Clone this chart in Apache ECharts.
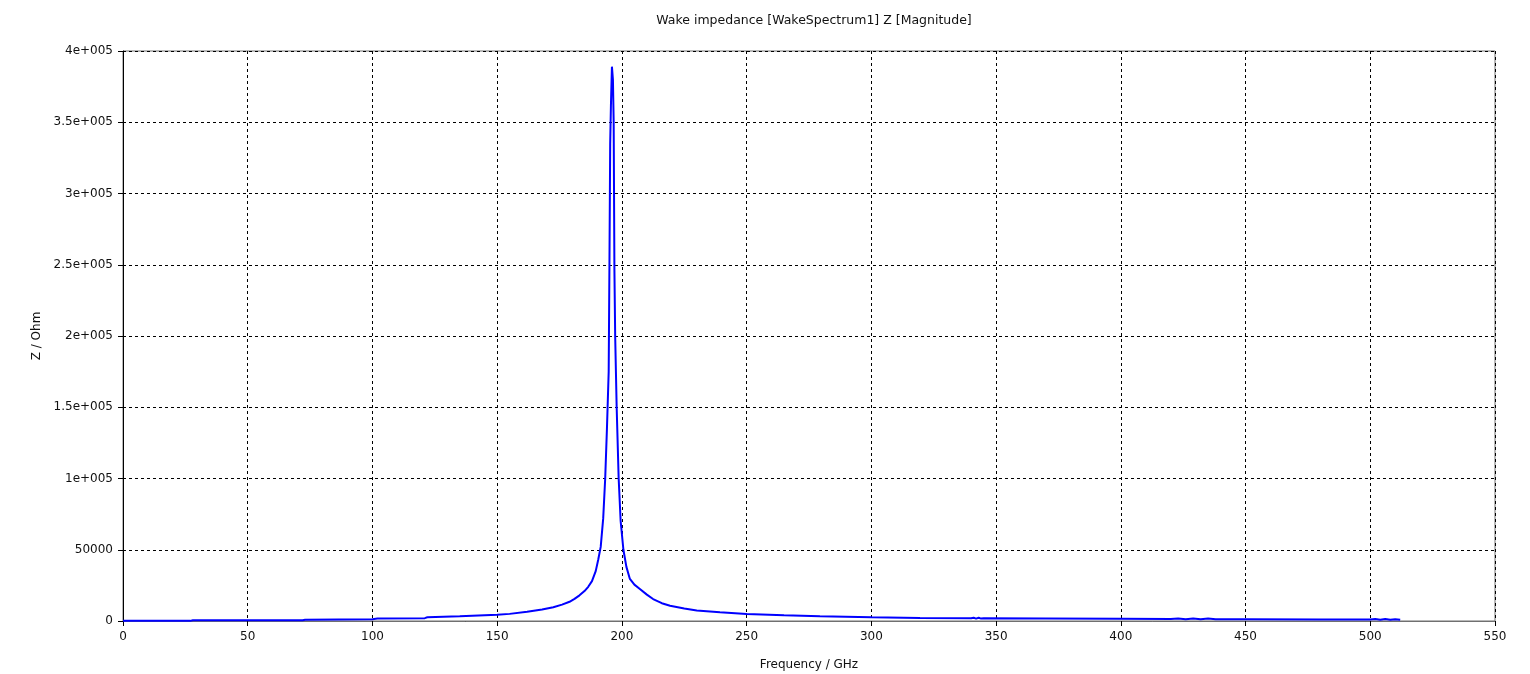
<!DOCTYPE html>
<html>
<head>
<meta charset="utf-8">
<script src="https://cdn.jsdelivr.net/npm/echarts@6/dist/echarts.min.js"></script>
<style>
 html, body { margin: 0; padding: 0; background: #fff; }
 #echarts { width: 1530px; height: 674px; }
</style>
</head>
<body>
<div id="echarts"></div>
<script>
// frequency (GHz) and |Z| (Ohm)
var freq = [0, 27, 28, 72, 73, 100, 102, 121, 122, 135, 150, 155, 162, 168, 172.5, 176, 179, 181, 183, 185,
  186.5, 188, 189.5, 190.5, 191.5, 192.5, 193.3, 194.0, 194.7, 195.0, 195.3, 195.6, 196.0, 196.4, 196.7, 197.0,
  197.3, 197.9, 198.7, 199.5, 200.6, 201.8, 203.2, 205, 207.2, 210, 212.5, 216, 219.3, 225, 230, 239.3, 250,
  265, 279.4, 300, 319.5, 340, 341, 342, 343, 344, 345, 370, 400, 420, 423, 426, 429, 432, 435, 438, 450,
  480, 500, 502, 504, 506, 508, 510, 512];
var impedance = [100, 100, 500, 600, 900, 1300, 1700, 2000, 2600, 3300, 4400, 5000, 6500, 8000, 9600, 11500, 13500, 15500, 18000, 21000,
  24000, 28000, 35000, 43000, 52000, 72000, 100000, 135000, 175000, 250000, 335000, 362000, 389000, 380000, 350000, 246000,
  200000, 150000, 100000, 70000, 50000, 38000, 29500, 25500, 22500, 18500, 15400, 12500, 10700, 8800, 7400, 6100, 4900,
  4000, 3300, 2600, 2100, 1900, 2300, 1700, 2300, 1700, 1900, 1700, 1500, 1400, 1800, 1200, 1800, 1200, 1700, 1300, 1200,
  1100, 1000, 1400, 900, 1400, 900, 1300, 800];
var xTicks = [0, 550, 50];
var yTicks = [0, 400000, 50000];

var points = [];
for (var i = 0; i < freq.length; i++) points.push([freq[i], impedance[i]]);

var myChart = echarts.init(document.getElementById('echarts'));
var font = 'DejaVu Sans';
var gridLine = { show: true, lineStyle: { color: '#000', type: [3, 3], width: 1 } };

option = {
  backgroundColor: '#fff',
  animation: false,
  textStyle: { fontFamily: font },
  title: {
    text: 'Wake impedance [WakeSpectrum1] Z [Magnitude]',
    left: 809,
    top: 9,
    textAlign: 'center',
    textStyle: { fontFamily: font, fontSize: 12.5, fontWeight: 'normal', color: '#111' }
  },
  grid: {
    left: 123, right: 35, top: 51, bottom: 53,
    outerBoundsMode: 'none',
    containLabel: false,
    show: true, borderColor: '#707070', borderWidth: 1
  },
  xAxis: {
    type: 'value',
    min: xTicks[0], max: xTicks[1], interval: xTicks[2],
    name: 'Frequency / GHz',
    nameLocation: 'middle',
    nameGap: 38,
    nameTextStyle: { fontFamily: font, fontSize: 12, color: '#111' },
    axisLine: { show: true, lineStyle: { color: '#707070' } },
    axisTick: { show: true, length: 5, lineStyle: { color: '#000' } },
    axisLabel: { margin: 10, fontFamily: font, fontSize: 12, color: '#111' },
    splitLine: gridLine
  },
  yAxis: {
    type: 'value',
    min: yTicks[0], max: yTicks[1], interval: yTicks[2],
    name: 'Z / Ohm',
    nameLocation: 'middle',
    nameGap: 80,
    nameTextStyle: { fontFamily: font, fontSize: 12, color: '#111' },
    axisLine: { show: true, lineStyle: { color: '#000' } },
    axisTick: { show: true, length: 5, lineStyle: { color: '#000' } },
    axisLabel: {
      margin: 10, fontFamily: font, fontSize: 12, color: '#111',
      formatter: function (v) { return v >= 100000 ? (v / 100000) + 'e+005' : String(v); }
    },
    splitLine: gridLine
  },
  series: [{
    type: 'line',
    data: points,
    showSymbol: false,
    lineStyle: { color: '#0000ff', width: 2 },
    itemStyle: { color: '#0000ff' }
  }]
};
myChart.setOption(option);
</script>
</body>
</html>
